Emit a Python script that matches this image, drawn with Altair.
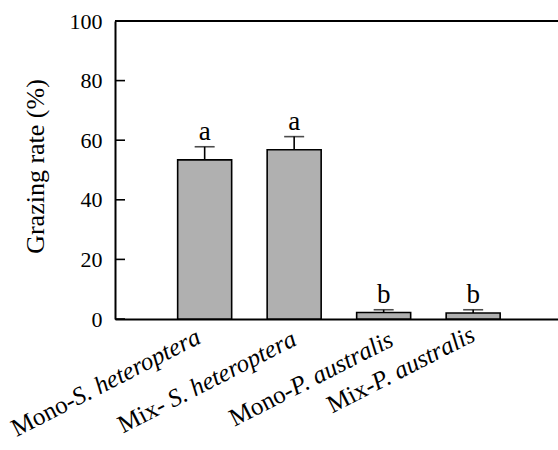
import altair as alt
import pandas as pd

categories = ["Mono-S. heteroptera", "Mix- S. heteroptera", "Mono-P. australis", "Mix-P. australis"]
prefixes = ["Mono-", "Mix-", "Mono-", "Mix-"]
species = ["S. heteroptera", "S. heteroptera", "P. australis", "P. australis"]
means = [53.4, 56.8, 2.2, 2.0]
errors = [4.4, 4.4, 0.9, 1.1]
letters = ["a", "a", "b", "b"]
y_ticks = [0, 20, 40, 60, 80, 100]

df = pd.DataFrame({
    "cat": categories,
    "prefix": prefixes,
    "species": species,
    "mean": means,
    "err": errors,
    "letter": letters,
})
df["top"] = df["mean"] + df["err"]

FONT = "Liberation Serif"

xscale = alt.Scale(domain=categories, paddingInner=0.3966, paddingOuter=0.6732, align=0.52)
yscale = alt.Scale(domain=[0, 100], nice=False, zero=True)

X = alt.X("cat:N", scale=xscale, sort=categories,
          axis=alt.Axis(labels=False, ticks=False, title=None, domain=True,
                        domainColor="black", domainWidth=2))
Y = alt.Y("mean:Q", scale=yscale,
          axis=alt.Axis(values=y_ticks, ticks=False, grid=False, domainColor="black",
                        domainWidth=2, labelFont=FONT, labelFontSize=22, labelColor="black",
                        labelPadding=13, title="Grazing rate (%)", titleFont=FONT,
                        titleFontSize=26, titleFontWeight="normal", titleColor="black",
                        titleAngle=270, titleAlign="center", titleBaseline="alphabetic",
                        titleX=-72, titleY=145))

base = alt.Chart(df)

bars = base.mark_bar(fill="#b0b0b0", stroke="black", strokeWidth=1.6).encode(x=X, y=Y)

err_rule = base.mark_rule(color="black", strokeWidth=1.6).encode(
    x=alt.X("cat:N", scale=xscale, sort=categories),
    y=alt.Y("mean:Q", scale=yscale),
    y2="top:Q",
)
err_cap = base.mark_tick(color="black", thickness=1.6, size=20, orient="horizontal").encode(
    x=alt.X("cat:N", scale=xscale, sort=categories),
    y=alt.Y("top:Q", scale=yscale),
)
letter_text = base.mark_text(font=FONT, fontSize=27, baseline="alphabetic", dy=-7, color="black").encode(
    x=alt.X("cat:N", scale=xscale, sort=categories),
    y=alt.Y("top:Q", scale=yscale),
    text="letter:N",
)

tick_df = pd.DataFrame({"v": y_ticks})
inner_ticks = alt.Chart(tick_df).mark_rule(color="black", strokeWidth=1.6).encode(
    x=alt.value(0), x2=alt.value(10), y=alt.Y("v:Q", scale=yscale)
)
top_line = alt.Chart(tick_df).transform_filter("datum.v == 100").mark_rule(
    color="black", strokeWidth=2
).encode(y=alt.Y("v:Q", scale=yscale))

# rotated category labels: roman prefix + italic species name
ANG = 333
COS, SIN = 0.891, 0.454
ITALIC_W = {"S. heteroptera": 139.0, "P. australis": 112.0}
# per label: (horizontal shift of label end from bar centre, baseline y in plot px, gap after hyphen)
LABEL_STYLE = [(-3.7, 322, 0), (2.5, 324, 6), (11.3, 324, 0), (3.5, 319, 0)]

label_marks = []
for cat, sp, (shift, ly, gap) in zip(categories, species, LABEL_STYLE):
    sub = base.transform_filter(alt.FieldEqualPredicate(field="cat", equal=cat))
    enc = dict(x=alt.X("cat:N", scale=xscale, sort=categories), y=alt.value(ly))
    j = shift * COS - ITALIC_W[sp]
    common = dict(font=FONT, fontSize=25, baseline="alphabetic", angle=ANG,
                  dy=shift * SIN, color="black")
    label_marks.append(sub.mark_text(align="right", dx=j - gap, **common).encode(text="prefix:N", **enc))
    label_marks.append(sub.mark_text(align="left", fontStyle="italic", dx=j, **common).encode(text="species:N", **enc))

chart = alt.layer(
    bars, err_rule, err_cap, letter_text, inner_ticks, top_line, *label_marks
).properties(
    width=443, height=298,
    autosize=alt.AutoSizeParams(type="none"),
    padding={"left": 115, "top": 21, "right": 0, "bottom": 131},
).configure_view(strokeWidth=0).configure(
    background="white", font=FONT
).configure_axis(
    labelFont=FONT, titleFont=FONT
).configure_text(font=FONT)

chart.save("out.html", embed_options={"renderer": "svg", "actions": False})
